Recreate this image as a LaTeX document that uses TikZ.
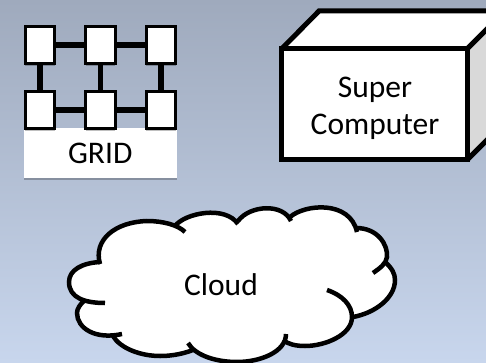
\documentclass[tikz,border=0pt]{standalone}
\usepackage{fontspec}
\setmainfont{Carlito}
\usetikzlibrary{shadows}
\definecolor{bgtop}{HTML}{9FAABD}
\definecolor{bgbottom}{HTML}{C8D6ED}
\definecolor{cubeside}{HTML}{D9D9D9}
\begin{document}
\begin{tikzpicture}[x=1pt,y=-1pt,node distance=60.5pt,
    softshadow/.style={drop shadow={shadow xshift=0pt,shadow yshift=-2pt,opacity=0.25,fill=black}},
    cell/.style={rectangle,draw=black,fill=white,line width=3.25pt,minimum width=29.5pt,minimum height=37.5pt,inner sep=0pt,softshadow},
    link/.style={line width=5.5pt},
    gridbase/.style={rectangle,fill=white,minimum width=153.5pt,minimum height=50pt,inner sep=0pt,softshadow,font=\fontsize{31.5}{34}\selectfont},
    cube/.style={line width=5pt,miter limit=10,line join=miter},
    cloudline/.style={line width=4.5pt,line cap=butt},
    caption/.style={font=\fontsize{31.5}{37}\selectfont,align=center,inner sep=0pt}]
    \clip (0,0) rectangle (486,363);
    \shade[top color=bgtop,bottom color=bgbottom] (0,0) rectangle (486,363);

    % grid
    \node[gridbase] (base) at (100.25,153) {\raisebox{-4.5pt}{GRID}};
    \node[cell] (a1) at (40,45) {};
    \node[cell] (a2) [right of = a1] {};
    \node[cell] (a3) [right of = a2] {};
    \node[cell] (b1) [below of = a1, node distance = 65pt] {};
    \node[cell] (b2) [below of = a2, node distance = 65pt] {};
    \node[cell] (b3) [below of = a3, node distance = 65pt] {};
    \path[link]
        (a1) edge (a2)
        (a2) edge (a3)
        (b1) edge (b2)
        (b2) edge (b3)
        (a1) edge (b1)
        (a2) edge (b2)
        (a3) edge (b3)
        ;

    % super computer
    \fill[white] (281.5,160) -- (281.5,49) -- (319,11) -- (505,11) -- (467,49) -- (467,160) -- cycle;
    \fill[cubeside] (467,49) -- (505,11) -- (505,122) -- (467,160) -- cycle;
    \draw[cube] (281.5,49) rectangle (467,160);
    \draw[cube] (281.5,49) -- (319,11) -- (505,11) -- (505,122) -- (467,160);
    \draw[cube] (467,49) -- (505,11);
    \node[caption] (super) at (375,108) {Super\\Computer};

    % cloud
    \fill[white] (69,282) .. controls (69,270) and (82,263) .. (100,262)
        .. controls (93,240) and (115,222) .. (147,221) .. controls (158,221) and (168,223) .. (175,226)
        .. controls (185,213) and (225,205) .. (238,222)
        .. controls (250,205) and (283,203) .. (291,218)
        .. controls (305,204) and (350,200) .. (357,229)
        .. controls (378,228) and (388,245) .. (387,257) .. controls (387,259) and (386,261) .. (385,262)
        .. controls (392,268) and (395,274) .. (395,280) .. controls (395,298) and (375,313) .. (353,317)
        .. controls (352,335) and (325,346) .. (305,346) .. controls (295,346) and (288,344) .. (284,340)
        .. controls (280,352) and (260,362) .. (237,362) .. controls (218,362) and (202,357) .. (193,350)
        .. controls (180,355) and (168,356) .. (160,356) .. controls (140,356) and (120,348) .. (113,337)
        .. controls (95,340) and (77,328) .. (77,313) .. controls (77,309) and (80,304) .. (85,300)
        .. controls (75,296) and (69,290) .. (69,282) -- cycle;
    \draw[cloudline] (105,303) .. controls (85,303) and (69,298) .. (69,282) .. controls (69,270) and (82,263) .. (100,262);
    \draw[cloudline] (100,264) .. controls (93,240) and (115,222) .. (147,221) .. controls (163,221) and (178,225) .. (185,232);
    \draw[cloudline] (175,226) .. controls (185,213) and (225,205) .. (238,224);
    \draw[cloudline] (238,221) .. controls (250,205) and (283,203) .. (291,221);
    \draw[cloudline] (290,217) .. controls (305,204) and (350,200) .. (357,232);
    \draw[cloudline] (356,228) .. controls (378,228) and (388,245) .. (387,257) .. controls (386,264) and (380,268) .. (373,273);
    \draw[cloudline] (385,262) .. controls (392,268) and (395,274) .. (395,280) .. controls (395,298) and (375,313) .. (353,317);
    \draw[cloudline] (327,290) .. controls (342,295) and (352,305) .. (352,317) .. controls (352,335) and (325,346) .. (305,346) .. controls (295,346) and (288,344) .. (283,340);
    \draw[cloudline] (286,334) .. controls (286,352) and (260,362) .. (237,362) .. controls (215,362) and (195,355) .. (188,343);
    \draw[cloudline] (193,350) .. controls (180,355) and (168,356) .. (160,356) .. controls (140,356) and (120,348) .. (113,336);
    \draw[cloudline] (122,334) .. controls (95,340) and (77,328) .. (77,313) .. controls (77,309) and (80,304) .. (85,300);
    \node[caption] (cloud) at (221,285) {Cloud};
\end{tikzpicture}
\end{document}
